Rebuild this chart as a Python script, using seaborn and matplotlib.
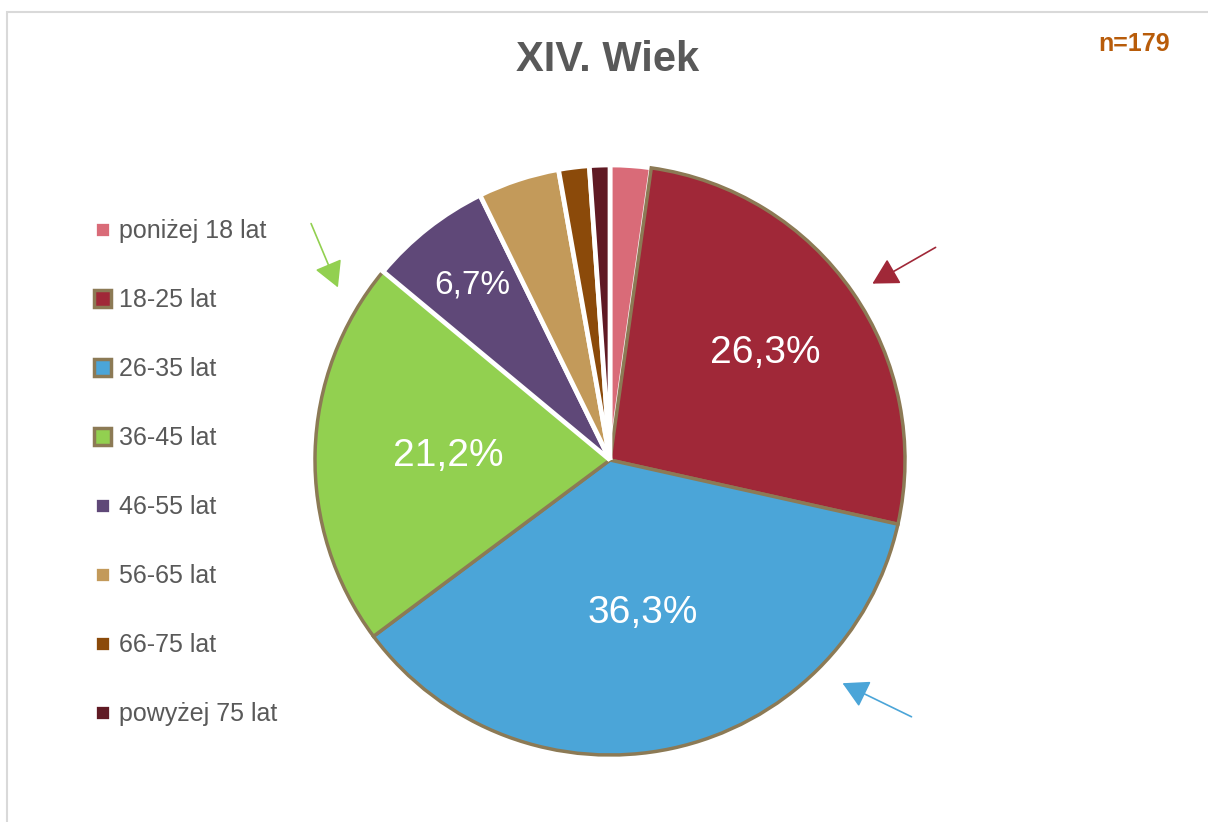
import matplotlib
matplotlib.use("Agg")
import matplotlib.pyplot as plt
from matplotlib.patches import Rectangle, FancyArrowPatch
import seaborn as sns
import numpy as np

# ---- data ----
categories = ["poniżej 18 lat", "18-25 lat", "26-35 lat", "36-45 lat",
              "46-55 lat", "56-65 lat", "66-75 lat", "powyżej 75 lat"]
counts = [4, 47, 65, 38, 12, 8, 3, 2]
n_total = 179
slice_colors = ["#D96B78", "#A02838", "#4BA5D8", "#92D050",
                "#5F4878", "#C39A5A", "#8B4A0A", "#601A24"]
highlighted = [False, True, True, True, False, False, False, False]
title_text = "XIV. Wiek"

sns.set_theme(style="white")
plt.rcParams["font.family"] = ["Liberation Sans", "DejaVu Sans"]

W, H = 1208, 822
fig = plt.figure(figsize=(W / 100, H / 100), dpi=100)
fig.patch.set_facecolor("white")

# chart frame
fig.add_artist(Rectangle((7 / W, -0.1), 1.2, (H - 12) / H + 0.1, transform=fig.transFigure,
                         fill=False, edgecolor="#D9D9D9", linewidth=1.5))

cx, cy, R = 610, 460, 295
half = 305
ax = fig.add_axes([(cx - half) / W, (H - cy - half) / H, 2 * half / W, 2 * half / H])
ax.axis("off")

palette = sns.color_palette(slice_colors)
wedges, _ = ax.pie(counts, colors=palette, startangle=90, counterclock=False,
                   radius=1.0, wedgeprops=dict(linewidth=3.4, edgecolor="white"))
for w, hl in zip(wedges, highlighted):
    if hl:
        w.set_edgecolor("#8C7A55")
        w.set_linewidth(2.5)
lim = half / R
ax.set_xlim(-lim, lim)
ax.set_ylim(-lim, lim)
ax.set_aspect("equal")

# percentage labels
label_dist = {1: 0.64, 2: 0.53, 3: 0.55, 4: 0.755}
label_size = {1: 28, 2: 28, 3: 28, 4: 24}
for i, w in enumerate(wedges):
    if i not in label_dist:
        continue
    mid = np.deg2rad((w.theta1 + w.theta2) / 2)
    d = label_dist[i]
    pct = counts[i] / n_total * 100
    ax.text(d * np.cos(mid), d * np.sin(mid), f"{pct:.1f}%".replace(".", ","),
            ha="center", va="center", color="white", fontsize=label_size[i])

# legend
leg = ax.legend(wedges, categories, loc="upper left",
                frameon=False, fontsize=18, labelcolor="#595959",
                handlelength=0.68, handleheight=0.68, handletextpad=0.32,
                labelspacing=1.80, borderpad=0, borderaxespad=0)
leg.set_bbox_to_anchor((94 / W, (H - 219) / H), transform=fig.transFigure)

# title and n
fig.text(608 / W, 1 - 60 / H, title_text, ha="center", va="center",
         fontsize=30, fontweight="bold", color="#595959")
fig.text(1134 / W, 1 - 44 / H, f"n={n_total}", ha="center", va="center",
         fontsize=18, fontweight="bold", color="#B85C0A")

# arrows
def arrow(x0, y0, x1, y1, color):
    fig.add_artist(FancyArrowPatch(
        (x0 / W, 1 - y0 / H), (x1 / W, 1 - y1 / H), transform=fig.transFigure,
        arrowstyle="-|>,head_length=10,head_width=5.5", mutation_scale=1.6,
        color=color, linewidth=1.2))

arrow(938, 246, 870, 285, slice_colors[1])
arrow(914, 718, 840, 682, slice_colors[2])
arrow(310, 221, 339, 290, slice_colors[3])

fig.savefig("out.png", dpi=100, facecolor="white")
